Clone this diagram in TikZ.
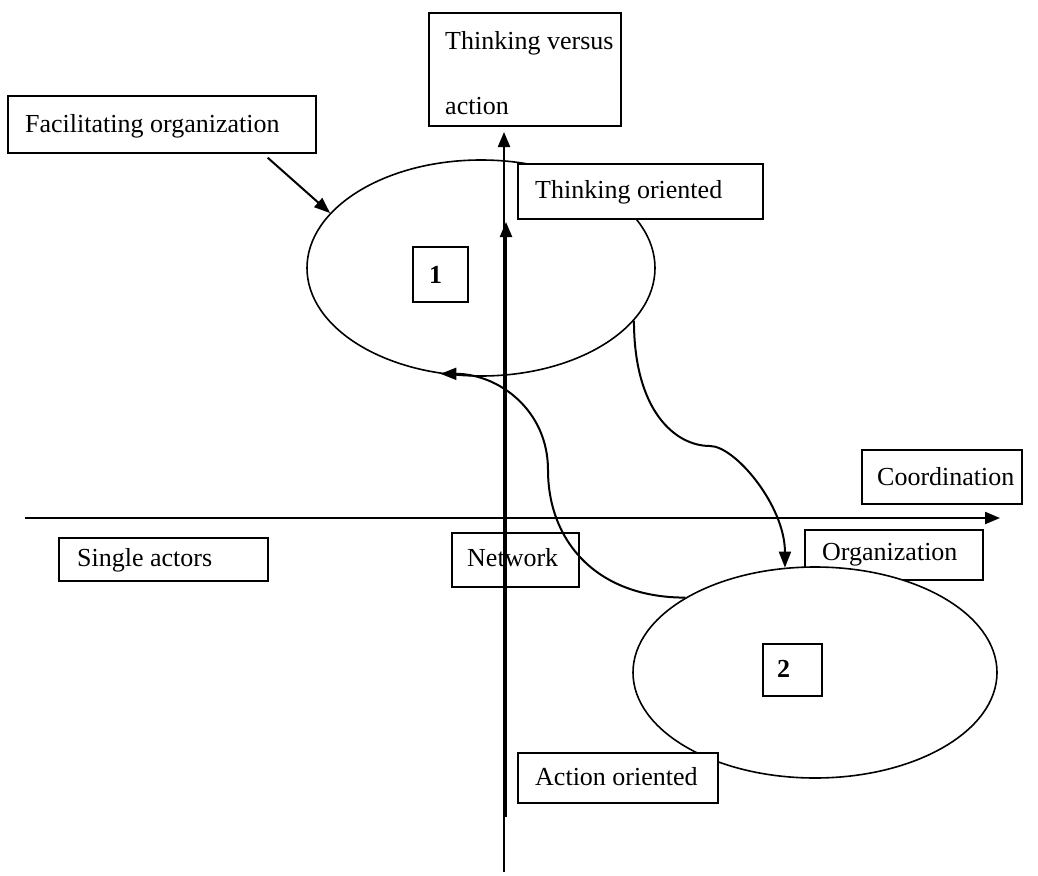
\documentclass[tikz,border=0pt]{standalone}
\usepackage{fontspec}
\setmainfont{Liberation Serif}
\usetikzlibrary{arrows.meta,shapes.geometric}

\begin{document}
\begin{tikzpicture}[x=1pt,y=-1pt,
  frame/.style={draw, line width=1.7pt, fill=white, inner sep=0pt, anchor=north west},
  lbl/.style={inner sep=0pt, anchor=base west, font=\fontsize{26}{31}\selectfont},
  oval/.style={ellipse, draw, line width=1.6pt, inner sep=0pt},
  axisline/.style={line width=2.2pt, -{Triangle[length=15pt,width=12pt]}},
  flow/.style={line width=2pt, -{Triangle[length=16pt,width=12pt]}}
]
\useasboundingbox (0,0) rectangle (1038,875);

% cluster 2 (lower right) and the boxes it overlaps
\node[frame, minimum width=178pt, minimum height=50pt] (org) at (804,529) {};
\node[lbl] (orgt) at (822,560) {Organization};
\node[oval, fill=white, minimum width=364pt, minimum height=211pt] (e2) at (815,672.5) {};
\node[frame, minimum width=59pt, minimum height=52pt] (two) at (762,643) {};
\node[lbl] (twot) at (777,677) {\bfseries 2};
\node[frame, minimum width=200pt, minimum height=50pt] (act) at (517,752) {};
\node[lbl] (actt) at (535,785) {Action oriented};

% cluster 1 (upper middle)
\node[oval, minimum width=348pt, minimum height=216pt] (e1) at (481,268) {};
\node[frame, minimum width=245pt, minimum height=55pt] (tho) at (517,163) {};
\node[lbl] (thot) at (535,198) {Thinking oriented};
\node[frame, minimum width=55pt, minimum height=55pt] (one) at (412,246) {};
\node[lbl] (onet) at (429,283) {\bfseries 1};

% remaining labels
\node[frame, minimum width=192pt, minimum height=113pt] (tva) at (428,12) {};
\node[lbl] (tvaa) at (445,49) {Thinking versus};
\node[lbl] (tvab) at (445,114) {action};
\node[frame, minimum width=308pt, minimum height=57pt] (fac) at (7,95) {};
\node[lbl] (fact) at (25,132) {Facilitating organization};
\node[frame, minimum width=160pt, minimum height=54pt] (coo) at (861,449) {};
\node[lbl] (coot) at (877,485) {Coordination};
\node[frame, minimum width=209pt, minimum height=43pt] (sin) at (58,537) {};
\node[lbl] (sint) at (77,566) {Single actors};
\node[frame, minimum width=127pt, minimum height=54pt] (net) at (451,532) {};
\node[lbl] (nett) at (467,566) {Network};

% axes
\coordinate (vbot) at (504,872);
\coordinate (vtop) at (504,132);
\coordinate (vbotb) at (506,817);
\coordinate (vtopb) at (506,222);
\coordinate (hleft) at (25,518);
\coordinate (hright) at (1000,518);
\draw[axisline] (vbot) -- (vtop);
\draw[axisline] (vbotb) -- (vtopb);
\draw[axisline] (hleft) -- (hright);

% connectors
\draw[flow] ([xshift=-49pt, yshift=-4pt]fac.south east) -- (e1.160);
\draw[flow] (e1.-19) .. controls +(0,90) and +(-35,0) .. (710,446)
                     .. controls +(25,0) and +(0,-62) .. (e2.106);
\draw[flow] (e2.150) .. controls +(-90,0) and +(0,70) .. (548,470)
                     .. controls +(0,-60) and +(58,0) .. (e1.-111);
\end{tikzpicture}
\end{document}
